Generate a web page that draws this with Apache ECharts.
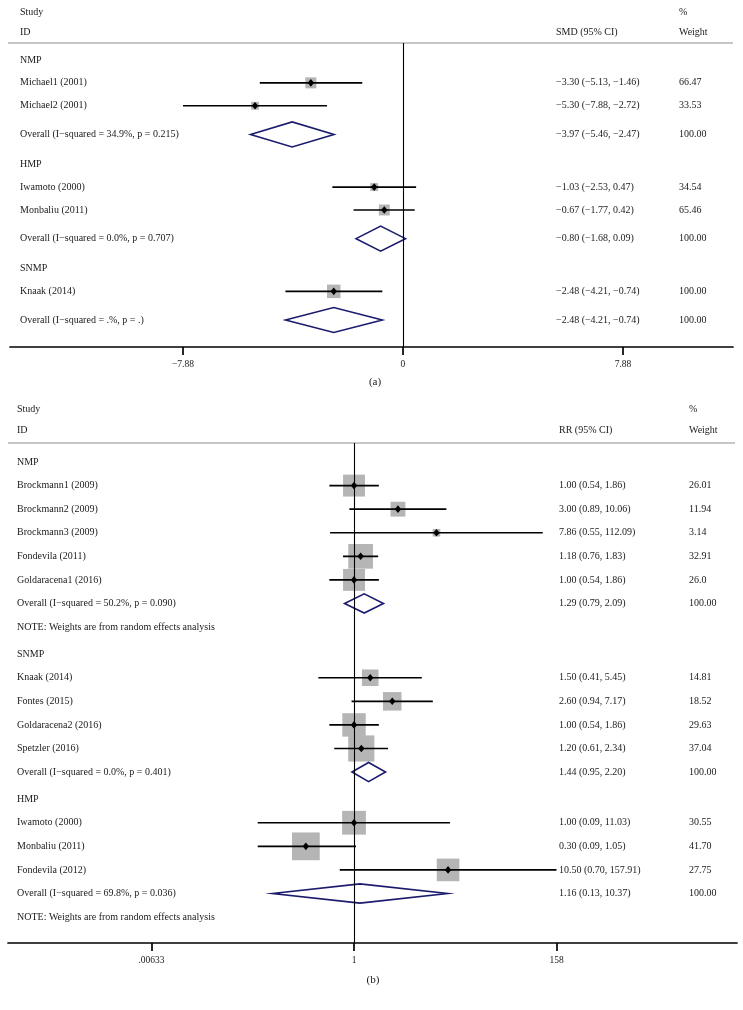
<!DOCTYPE html>
<html><head><meta charset="utf-8">
<script src="https://cdn.jsdelivr.net/npm/echarts@6/dist/echarts.min.js"></script>
<style>html,body{margin:0;padding:0;background:#fff}#c{width:743px;height:1010px}</style>
</head><body><div id="c"></div>
<script>
// ---------- Panel (a): SMD ----------
const labelsA = ['NMP','Michael1 (2001)','Michael2 (2001)','Overall (I\u2212squared = 34.9%, p = 0.215)',
  'HMP','Iwamoto (2000)','Monbaliu (2011)','Overall (I\u2212squared = 0.0%, p = 0.707)',
  'SNMP','Knaak (2014)','Overall (I\u2212squared = .%, p = .)'];
const typesA = ['h','s','s','o','h','s','s','o','h','s','o'];
const estA = [null,-3.30,-5.30,-3.97,null,-1.03,-0.67,-0.80,null,-2.48,-2.48];
const loA  = [null,-5.13,-7.88,-5.46,null,-2.53,-1.77,-1.68,null,-4.21,-4.21];
const hiA  = [null,-1.46,-2.72,-2.47,null,0.47,0.42,0.09,null,-0.74,-0.74];
const weightA = [null,66.47,33.53,100.00,null,34.54,65.46,100.00,null,100.00,100.00];
const weightLabA = ['','66.47','33.53','100.00','','34.54','65.46','100.00','','100.00','100.00'];
const tickValsA = [-7.88,0,7.88];
const tickLabsA = ['\u22127.88','0','7.88'];

// ---------- Panel (b): RR ----------
const labelsB = ['NMP','Brockmann1 (2009)','Brockmann2 (2009)','Brockmann3 (2009)','Fondevila (2011)','Goldaracena1 (2016)',
  'Overall (I\u2212squared = 50.2%, p = 0.090)','NOTE: Weights are from random effects analysis',
  'SNMP','Knaak (2014)','Fontes (2015)','Goldaracena2 (2016)','Spetzler (2016)','Overall (I\u2212squared = 0.0%, p = 0.401)',
  'HMP','Iwamoto (2000)','Monbaliu (2011)','Fondevila (2012)','Overall (I\u2212squared = 69.8%, p = 0.036)',
  'NOTE: Weights are from random effects analysis'];
const typesB = ['h','s','s','s','s','s','o','n','h','s','s','s','s','o','h','s','s','s','o','n'];
const estB = [null,1.00,3.00,7.86,1.18,1.00,1.29,null,null,1.50,2.60,1.00,1.20,1.44,null,1.00,0.30,10.50,1.16,null];
const loB  = [null,0.54,0.89,0.55,0.76,0.54,0.79,null,null,0.41,0.94,0.54,0.61,0.95,null,0.09,0.09,0.70,0.13,null];
const hiB  = [null,1.86,10.06,112.09,1.83,1.86,2.09,null,null,5.45,7.17,1.86,2.34,2.20,null,11.03,1.05,157.91,10.37,null];
const weightB = [null,26.01,11.94,3.14,32.91,26.0,100.00,null,null,14.81,18.52,29.63,37.04,100.00,null,30.55,41.70,27.75,100.00,null];
const weightLabB = ['','26.01','11.94','3.14','32.91','26.0','100.00','','','14.81','18.52','29.63','37.04','100.00','','30.55','41.70','27.75','100.00',''];
const tickValsB = [0.00633,1,158];
const tickLabsB = ['.00633','1','158'];

// ---------- helpers ----------
const FONT = '"Liberation Serif", "DejaVu Serif", serif';
const TXT = '#1a1a1a';
const NAVY = '#1b1b6e';
function rowPos(types, gapOverall, gapHeader){
  let y = 0;
  return types.map((t,i)=>{ if(i>0){ y += (t==='o'?gapOverall:(t==='h'?gapHeader:1)); } return y; });
}
function fmt(v){ const s = Math.abs(v).toFixed(2); return (v<0?'\u2212':'') + s; }
function ciText(e,l,h){ return fmt(e)+' ('+fmt(l)+', '+fmt(h)+')'; }

const posA = rowPos(typesA, 1.25, 1.3);
const posB = rowPos(typesB, 1.0, 1.15);

function buildPanel(idx, labels, types, est, lo, hi, wNum, wLab, pos, xRef, cols, boxK, diaH){
  const textData = labels.map((_,i)=>[xRef, pos[i], i]);
  const markData = [];
  types.forEach((t,i)=>{ if(t==='s'||t==='o') markData.push([est[i], pos[i], lo[i], hi[i], wNum[i], t==='o'?1:0]); });
  const textSeries = {
    type:'custom', xAxisIndex:idx, yAxisIndex:idx, z:5, silent:true,
    data:textData, encode:{x:0,y:1},
    renderItem:function(params, api){
      const i = api.value(2);
      const y = api.coord([xRef, api.value(1)])[1];
      const children = [{type:'text', style:{text:labels[i], x:cols.label, y:y, fill:TXT, font:'10px '+FONT, verticalAlign:'middle', align:'left'}}];
      if(est[i]!==null){
        children.push({type:'text', style:{text:ciText(est[i],lo[i],hi[i]), x:cols.ci, y:y, fill:TXT, font:'10px '+FONT, verticalAlign:'middle', align:'left'}});
      }
      if(wLab[i]){
        children.push({type:'text', style:{text:wLab[i], x:cols.w, y:y, fill:TXT, font:'10px '+FONT, verticalAlign:'middle', align:'left'}});
      }
      return {type:'group', children:children};
    },
    markLine:{silent:true, symbol:['none','none'], label:{show:false},
      lineStyle:{color:'#000', width:1.1, type:'solid'}, data:[{xAxis:xRef}]}
  };
  const markSeries = {
    type:'custom', xAxisIndex:idx, yAxisIndex:idx, z:2, silent:true,
    data:markData, encode:{x:0,y:1},
    renderItem:function(params, api){
      const y = api.value(1);
      const c = api.coord([api.value(0), y]);
      const l = api.coord([api.value(2), y]);
      const h = api.coord([api.value(3), y]);
      if(api.value(5)===1){
        return {type:'polygon', shape:{points:[[l[0],c[1]],[c[0],c[1]-diaH],[h[0],c[1]],[c[0],c[1]+diaH]]},
          style:{fill:'none', stroke:NAVY, lineWidth:1.6}};
      }
      const s = boxK*Math.sqrt(api.value(4));
      return {type:'group', children:[
        {type:'rect', shape:{x:c[0]-s/2, y:c[1]-s/2, width:s, height:s}, style:{fill:'#b5b5b5'}},
        {type:'line', shape:{x1:l[0], y1:c[1], x2:h[0], y2:c[1]}, style:{stroke:'#000', lineWidth:1.7}},
        {type:'polygon', shape:{points:[[c[0]-3.2,c[1]],[c[0],c[1]-3.8],[c[0]+3.2,c[1]],[c[0],c[1]+3.8]]}, style:{fill:'#000'}}
      ]};
    }
  };
  return [markSeries, textSeries];
}

function xAxisCfg(idx, type, min, max, vals, labs){
  const cfg = {
    gridIndex:idx, type:type, min:min, max:max,
    axisLine:{show:true, onZero:false, lineStyle:{color:'#000', width:1.7}},
    axisTick:{show:true, customValues:vals, length:8, inside:false, lineStyle:{color:'#000', width:1.7}},
    axisLabel:{show:true, customValues:vals, margin:12, fontSize:9.5, fontFamily:FONT, color:TXT,
      formatter:function(v){ let k=0, best=Infinity; vals.forEach((t,j)=>{ const d=Math.abs(t-v)/(Math.abs(t)+1e-9); if(d<best){best=d;k=j;} }); return labs[k]; }},
    splitLine:{show:false}, minorTick:{show:false}
  };
  if(type==='log') cfg.logBase = 10;
  return cfg;
}

const chart = echarts.init(document.getElementById('c'), null, {renderer:'canvas'});
const option = {
  backgroundColor:'#fff',
  animation:false,
  grid:[
    {left:10, right:10, top:43, height:304, containLabel:false, outerBoundsMode:'none'},
    {left:8, right:6, top:443, height:500, containLabel:false, outerBoundsMode:'none'}
  ],
  xAxis:[
    xAxisCfg(0,'value', -14.076, 11.82, tickValsA, tickLabsA),
    xAxisCfg(1,'log', 1.75e-4, 14400, tickValsB, tickLabsB)
  ],
  yAxis:[
    {gridIndex:0, type:'value', inverse:true, min:-0.74, max:12.53, show:false, splitLine:{show:false}},
    {gridIndex:1, type:'value', inverse:true, min:-0.806, max:20.40, show:false, splitLine:{show:false}}
  ],
  series:[].concat(
    buildPanel(0, labelsA, typesA, estA, loA, hiA, weightA, weightLabA, posA, 0, {label:20, ci:556, w:679}, 1.35, 12.5),
    buildPanel(1, labelsB, typesB, estB, loB, hiB, weightB, weightLabB, posB, 1, {label:17, ci:559, w:689}, 4.3, 9.6)
  ),
  graphic:[
    {type:'line', shape:{x1:8, y1:43, x2:733, y2:43}, style:{stroke:'#c6c6c6', lineWidth:2}},
    {type:'line', shape:{x1:8, y1:443, x2:735, y2:443}, style:{stroke:'#c6c6c6', lineWidth:2}},
    {type:'text', style:{text:'Study', x:20, y:12, font:'10px '+FONT, fill:TXT, verticalAlign:'middle'}},
    {type:'text', style:{text:'ID', x:20, y:32, font:'10px '+FONT, fill:TXT, verticalAlign:'middle'}},
    {type:'text', style:{text:'%', x:679, y:12, font:'10px '+FONT, fill:TXT, verticalAlign:'middle'}},
    {type:'text', style:{text:'SMD (95% CI)', x:556, y:32, font:'10px '+FONT, fill:TXT, verticalAlign:'middle'}},
    {type:'text', style:{text:'Weight', x:679, y:32, font:'10px '+FONT, fill:TXT, verticalAlign:'middle'}},
    {type:'text', style:{text:'(a)', x:375, y:382, font:'11px '+FONT, fill:TXT, verticalAlign:'middle', align:'center'}},
    {type:'text', style:{text:'Study', x:17, y:409, font:'10px '+FONT, fill:TXT, verticalAlign:'middle'}},
    {type:'text', style:{text:'ID', x:17, y:430, font:'10px '+FONT, fill:TXT, verticalAlign:'middle'}},
    {type:'text', style:{text:'%', x:689, y:409, font:'10px '+FONT, fill:TXT, verticalAlign:'middle'}},
    {type:'text', style:{text:'RR (95% CI)', x:559, y:430, font:'10px '+FONT, fill:TXT, verticalAlign:'middle'}},
    {type:'text', style:{text:'Weight', x:689, y:430, font:'10px '+FONT, fill:TXT, verticalAlign:'middle'}},
    {type:'text', style:{text:'(b)', x:373, y:980, font:'11px '+FONT, fill:TXT, verticalAlign:'middle', align:'center'}}
  ]
};
chart.setOption(option);
</script>
</body></html>
